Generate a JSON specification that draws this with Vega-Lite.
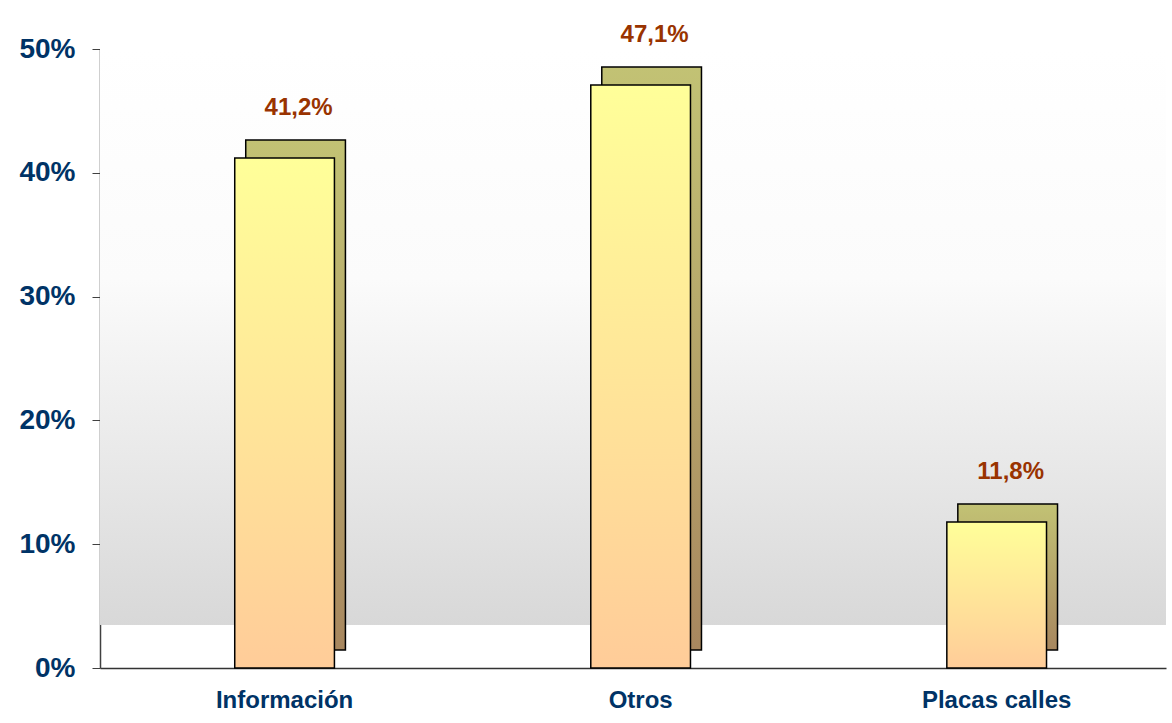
{
  "$schema": "https://vega.github.io/schema/vega-lite/v6.json",
  "width": 1066,
  "height": 619,
  "autosize": {"type": "none"},
  "padding": {"left": 100, "top": 49, "right": 6, "bottom": 55},
  "background": "white",
  "config": {
    "view": {"stroke": null},
    "font": "Liberation Sans",
    "locale": {"number": {"decimal": ",", "thousands": ".", "grouping": [3], "currency": ["", " €"]}}
  },
  "data": {
    "values": [
      {"categoria": "Información", "valor": 0.412},
      {"categoria": "Otros", "valor": 0.471},
      {"categoria": "Placas calles", "valor": 0.118}
    ]
  },
  "layer": [
    {
      "mark": {
        "type": "rect",
        "fill": {"gradient": "linear", "x1": 0, "y1": 0, "x2": 0, "y2": 1,
          "stops": [{"offset": 0, "color": "#ffffff"}, {"offset": 0.4, "color": "#fbfbfb"}, {"offset": 1, "color": "#d8d8d8"}]}
      },
      "encoding": {
        "y": {"datum": 0.035, "type": "quantitative", "scale": {"domain": [0, 0.5]}},
        "y2": {"datum": 0.5}
      }
    },
    {
      "mark": {
        "type": "bar",
        "xOffset": 11, "x2Offset": 11, "yOffset": -18, "y2Offset": -18,
        "fill": {"gradient": "linear", "x1": 0, "y1": 0, "x2": 0, "y2": 1,
          "stops": [{"offset": 0, "color": "#c2c274"}, {"offset": 1, "color": "#a8875f"}]},
        "stroke": "#000000", "strokeWidth": 1.5
      },
      "encoding": {
        "x": {"field": "categoria", "type": "nominal", "sort": null,
          "scale": {"paddingInner": 0.72, "paddingOuter": 0.357, "align": 0.53}},
        "y": {"field": "valor", "type": "quantitative"}
      }
    },
    {
      "mark": {
        "type": "bar",
        "fill": {"gradient": "linear", "x1": 0, "y1": 0, "x2": 0, "y2": 1,
          "stops": [{"offset": 0, "color": "#ffff99"}, {"offset": 1, "color": "#ffcc99"}]},
        "stroke": "#000000", "strokeWidth": 1.5
      },
      "encoding": {
        "x": {"field": "categoria", "type": "nominal", "sort": null,
          "axis": {"title": null, "labelAngle": 0, "labelAlign": "center", "labelBaseline": "top", "labelFontSize": 24, "labelFontWeight": "bold",
            "labelColor": "#003366", "ticks": false, "domainColor": "#333333", "domainWidth": 1.5, "labelPadding": 20}},
        "y": {"field": "valor", "type": "quantitative",
          "axis": {"title": null, "format": ".0%", "values": [0, 0.1, 0.2, 0.3, 0.4, 0.5], "grid": false,
            "labelFontSize": 28, "labelFontWeight": "bold", "labelColor": "#003366",
            "tickSize": 8, "tickColor": "#404040", "domainColor": "#404040", "domainWidth": 1.5, "labelPadding": 17}}
      }
    },
    {
      "mark": {"type": "text", "baseline": "bottom", "dy": -38, "dx": 14, "fontSize": 24, "fontWeight": "bold", "color": "#993300"},
      "encoding": {
        "x": {"field": "categoria", "type": "nominal", "sort": null},
        "y": {"field": "valor", "type": "quantitative"},
        "text": {"field": "valor", "type": "quantitative", "format": ".1%"}
      }
    }
  ]
}
